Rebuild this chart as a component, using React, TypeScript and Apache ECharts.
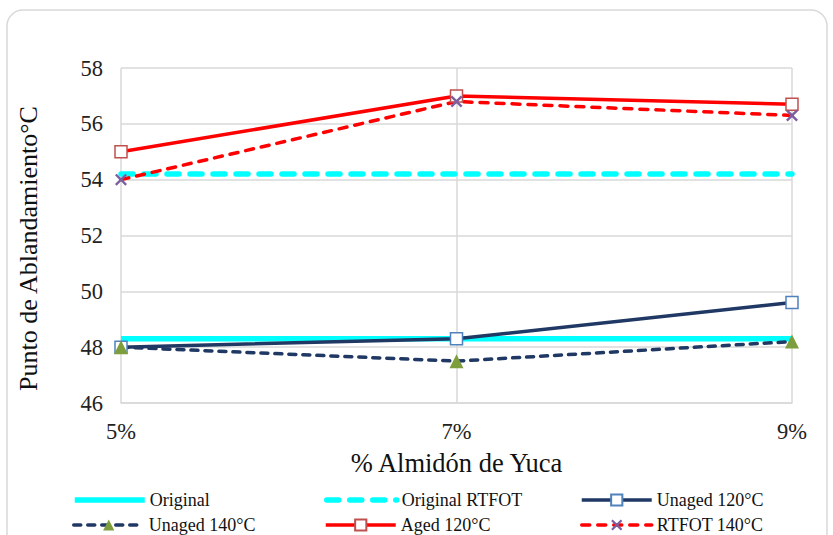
import React, { useEffect, useRef } from "react";
import * as echarts from "echarts";

const categories = ["5%", "7%", "9%"];
const original = [48.3, 48.3, 48.3];
const originalRtfot = [54.2, 54.2, 54.2];
const unaged120 = [48.0, 48.3, 49.6];
const unaged140 = [48.0, 47.5, 48.2];
const aged120 = [55.0, 57.0, 56.7];
const rtfot140 = [54.0, 56.8, 56.3];

const FONT = "Liberation Serif";
const GRID_COLOR = "#D9D9D9";
const X_MARK = "path://M0,1.4 L1.4,0 L5,3.6 L8.6,0 L10,1.4 L6.4,5 L10,8.6 L8.6,10 L5,6.4 L1.4,10 L0,8.6 L3.6,5 Z";

const CYAN = "#00FFFF";
const NAVY = "#1F3864";
const RED = "#FF0000";

export default function App() {
  const ref = useRef<HTMLDivElement>(null);

  useEffect(() => {
    if (!ref.current) return;
    const chart = echarts.init(ref.current, null, { renderer: "svg" });

    const legendText = { fontFamily: FONT, fontSize: 18, color: "#111" };
    const mkLegend = (
      name: string,
      left: number,
      top: number,
      lineWidth: number,
      hideSymbol = false
    ) => ({
      data: [name],
      left,
      top,
      padding: 0,
      orient: "horizontal",
      itemWidth: 70,
      itemHeight: 14,
      textStyle: legendText,
      selectedMode: false,
      lineStyle: { width: lineWidth },
      ...(hideSymbol ? { itemStyle: { opacity: 0 } } : {}),
    });

    chart.setOption({
      animation: false,
      backgroundColor: "#fff",
      graphic: [
        {
          type: "rect",
          shape: { x: 7, y: 10, width: 820, height: 560, r: 16 },
          style: { fill: "none", stroke: GRID_COLOR, lineWidth: 1.5 },
          silent: true,
          z: -10,
        },
      ],
      legend: [
        mkLegend("Original", 72, 491, 5.5, true),
        mkLegend("Original RTFOT", 324, 491, 5.5, true),
        mkLegend("Unaged 120°C", 580, 491, 3.5),
        mkLegend("Unaged 140°C", 72, 516, 3.5),
        mkLegend("Aged 120°C", 324, 516, 3.5),
        mkLegend("RTFOT 140°C", 580, 516, 3.5),
      ],
      grid: { left: 121, right: 41, top: 68, bottom: 132, containLabel: false },
      xAxis: {
        type: "category",
        data: categories,
        boundaryGap: false,
        name: "% Almidón de Yuca",
        nameLocation: "middle",
        nameGap: 46,
        nameTextStyle: { fontFamily: FONT, fontSize: 26.5, color: "#111" },
        axisLine: { show: true, lineStyle: { color: GRID_COLOR, width: 1.5 } },
        axisTick: { show: false },
        axisLabel: { fontFamily: FONT, fontSize: 22.5, color: "#222", margin: 17 },
        splitLine: { show: true, lineStyle: { color: GRID_COLOR, width: 1.5 } },
      },
      yAxis: {
        type: "value",
        min: 46,
        max: 58,
        interval: 2,
        name: "Punto de Ablandamiento°C",
        nameLocation: "middle",
        nameGap: 80,
        nameTextStyle: {
          fontFamily: FONT,
          fontSize: 26,
          color: "#111",
          padding: [0, 26, 0, 0],
        },
        axisLine: { show: false },
        axisTick: { show: false },
        axisLabel: { fontFamily: FONT, fontSize: 22.5, color: "#222", margin: 18 },
        splitLine: { show: true, lineStyle: { color: GRID_COLOR, width: 1.5 } },
      },
      series: [
        {
          name: "Original",
          type: "line",
          data: original,
          symbol: "none",
          lineStyle: { color: CYAN, width: 5.5 },
          itemStyle: { color: CYAN },
        },
        {
          name: "Original RTFOT",
          type: "line",
          data: originalRtfot,
          symbol: "none",
          lineStyle: { color: CYAN, width: 5.5, type: [12, 11], cap: "round" },
          itemStyle: { color: CYAN },
        },
        {
          name: "Unaged 120°C",
          type: "line",
          data: unaged120,
          symbol: "rect",
          symbolSize: 12,
          lineStyle: { color: NAVY, width: 3.5 },
          itemStyle: { color: "#fff", borderColor: "#4F81BD", borderWidth: 1.5 },
        },
        {
          name: "Unaged 140°C",
          type: "line",
          data: unaged140,
          symbol: "triangle",
          symbolSize: 14,
          lineStyle: { color: NAVY, width: 3.5, type: [7, 7], cap: "round" },
          itemStyle: { color: "#7E9E3E" },
        },
        {
          name: "Aged 120°C",
          type: "line",
          data: aged120,
          symbol: "rect",
          symbolSize: 12,
          lineStyle: { color: RED, width: 3.5 },
          itemStyle: { color: "#fff", borderColor: "#C0504D", borderWidth: 1.5 },
        },
        {
          name: "RTFOT 140°C",
          type: "line",
          data: rtfot140,
          symbol: X_MARK,
          symbolSize: 12,
          lineStyle: { color: RED, width: 3.5, type: [8, 8], cap: "round" },
          itemStyle: { color: "#7B5EA0" },
        },
      ],
    });

    return () => chart.dispose();
  }, []);

  return (
    <div
      ref={ref}
      style={{ position: "fixed", left: 0, top: 0, width: 833, height: 535 }}
    />
  );
}
